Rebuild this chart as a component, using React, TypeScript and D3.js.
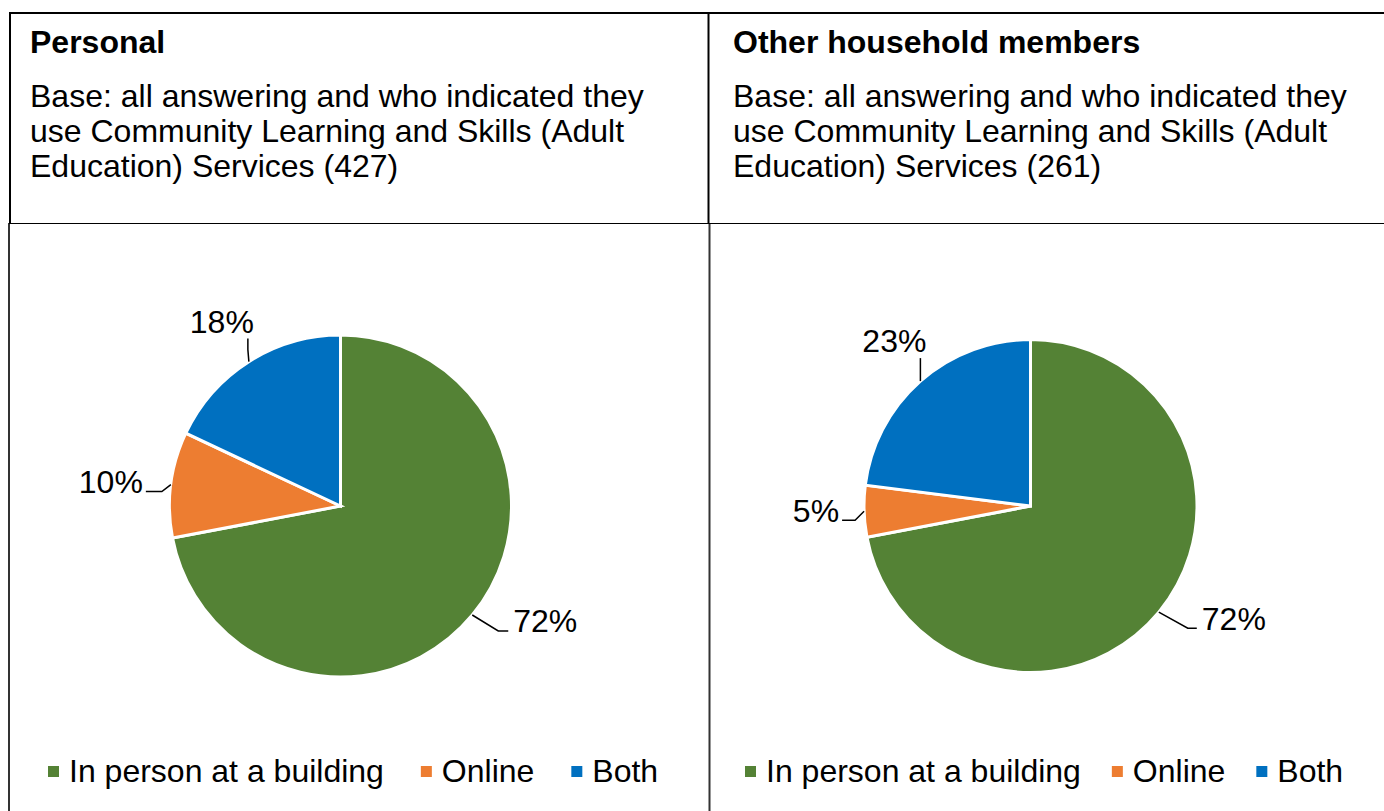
import React from "react";
import * as d3 from "d3";

const categories = ["In person at a building", "Online", "Both"];
const colors = ["#548235", "#ED7D31", "#0070C0"];
const personalValues = [72, 10, 18];
const householdValues = [72, 5, 23];
const panelTitles = ["Personal", "Other household members"];
const baseLinesPersonal = [
  "Base: all answering and who indicated they",
  "use Community Learning and Skills (Adult",
  "Education) Services (427)",
];
const baseLinesHousehold = [
  "Base: all answering and who indicated they",
  "use Community Learning and Skills (Adult",
  "Education) Services (261)",
];

const FONT = "'Liberation Sans', Arial, Helvetica, sans-serif";
const FS = 32;

// layout per panel
const panels = [
  {
    title: panelTitles[0],
    lines: baseLinesPersonal,
    values: personalValues,
    left: 10,
    textX: 30,
    cx: 340.5,
    cy: 506,
    r: 171,
    legendX: 48,
    legendGap: 37,
    labels: [
      { elbow: [26, 16], end: [36, 16], text: [5, 1], anchor: "start" },
      { elbow: [-9, 7], end: [-25, 7], text: [-3, 1], anchor: "end" },
      { elbow: [-1, -12], end: [-1, -23], text: [6, -6], anchor: "end" },
    ],
  },
  {
    title: panelTitles[1],
    lines: baseLinesHousehold,
    values: householdValues,
    left: 709,
    textX: 733,
    cx: 1030.5,
    cy: 506,
    r: 166.5,
    legendX: 745,
    legendGap: 31,
    labels: [
      { elbow: [29, 16], end: [38, 16], text: [5, 2], anchor: "start" },
      { elbow: [-9, 9], end: [-22, 9], text: [-3, 2], anchor: "end" },
      { elbow: [0, -12], end: [0, -23], text: [6, -6], anchor: "end" },
    ],
  },
];

function measure(text: string): number {
  // Arial advance widths per 1000 em
  const w: Record<string, number> = {
    I: 278, n: 556, " ": 278, p: 556, e: 556, r: 333, s: 500, o: 556, a: 556, t: 278,
    b: 556, u: 556, i: 222, l: 222, d: 556, g: 556, O: 778, B: 667, h: 556,
  };
  let s = 0;
  for (const c of text) s += w[c] ?? 556;
  return (s / 1000) * FS;
}

function Pie({ p }: { p: (typeof panels)[number] }) {
  const pie = d3.pie<number>().sort(null).value((d) => d);
  const arcs = pie(p.values);
  const arc = d3.arc<d3.PieArcDatum<number>>().innerRadius(0).outerRadius(p.r);
  const total = d3.sum(p.values);
  const pct = d3.format(".0%");
  return (
    <g>
      <g transform={`translate(${p.cx},${p.cy})`}>
        {arcs.map((a, i) => (
          <path key={i} d={arc(a) || ""} fill={colors[i]} stroke="#fff" strokeWidth={3} strokeLinejoin="miter" />
        ))}
      </g>
      {arcs.map((a, i) => {
        const mid = (a.startAngle + a.endAngle) / 2;
        const ex = p.cx + p.r * Math.sin(mid);
        const ey = p.cy - p.r * Math.cos(mid);
        const L = p.labels[i];
        const bx = ex + L.elbow[0];
        const by = ey + L.elbow[1];
        const fx = ex + L.end[0];
        const fy = ey + L.end[1];
        return (
          <g key={i}>
            <polyline points={`${ex},${ey} ${bx},${by} ${fx},${fy}`} fill="none" stroke="#000" strokeWidth={1.5} />
            <text x={fx + L.text[0]} y={fy + L.text[1]} textAnchor={L.anchor} fontFamily={FONT} fontSize={FS} fill="#000">
              {pct(p.values[i] / total)}
            </text>
          </g>
        );
      })}
    </g>
  );
}

function Legend({ x, gap }: { x: number; gap: number }) {
  let cur = x;
  const items = categories.map((c, i) => {
    const sx = cur;
    cur += 21 + measure(c) + gap;
    return (
      <g key={i}>
        <rect x={sx} y={766} width={11} height={11} fill={colors[i]} />
        <text x={sx + 21} y={782} fontFamily={FONT} fontSize={FS} fill="#000">
          {c}
        </text>
      </g>
    );
  });
  return <g>{items}</g>;
}

export default function App() {
  return (
    <svg width={1384} height={811} style={{ position: "absolute", left: 0, top: 0, background: "#fff" }}>
      <rect x={0} y={0} width={1384} height={811} fill="#fff" />
      {/* table borders */}
      <line x1={9} y1={13} x2={1384} y2={13} stroke="#000" strokeWidth={2} />
      <line x1={10} y1={12} x2={10} y2={223} stroke="#000" strokeWidth={2} />
      <line x1={9} y1={223} x2={9} y2={811} stroke="#333" strokeWidth={2} />
      <line x1={708.5} y1={12} x2={708.5} y2={223} stroke="#000" strokeWidth={2} />
      <line x1={709.5} y1={223} x2={709.5} y2={811} stroke="#333" strokeWidth={2} />
      <line x1={9} y1={223.5} x2={1384} y2={223.5} stroke="#000" strokeWidth={1} />
      {panels.map((p, k) => (
        <g key={k}>
          <text x={p.textX} y={53} fontFamily={FONT} fontSize={FS} fontWeight="bold" fill="#000">
            {p.title}
          </text>
          {p.lines.map((l, j) => (
            <text key={j} x={p.textX} y={107 + j * 35} fontFamily={FONT} fontSize={FS} fill="#000">
              {l}
            </text>
          ))}
          <Pie p={p} />
          <Legend x={p.legendX} gap={p.legendGap} />
        </g>
      ))}
    </svg>
  );
}
